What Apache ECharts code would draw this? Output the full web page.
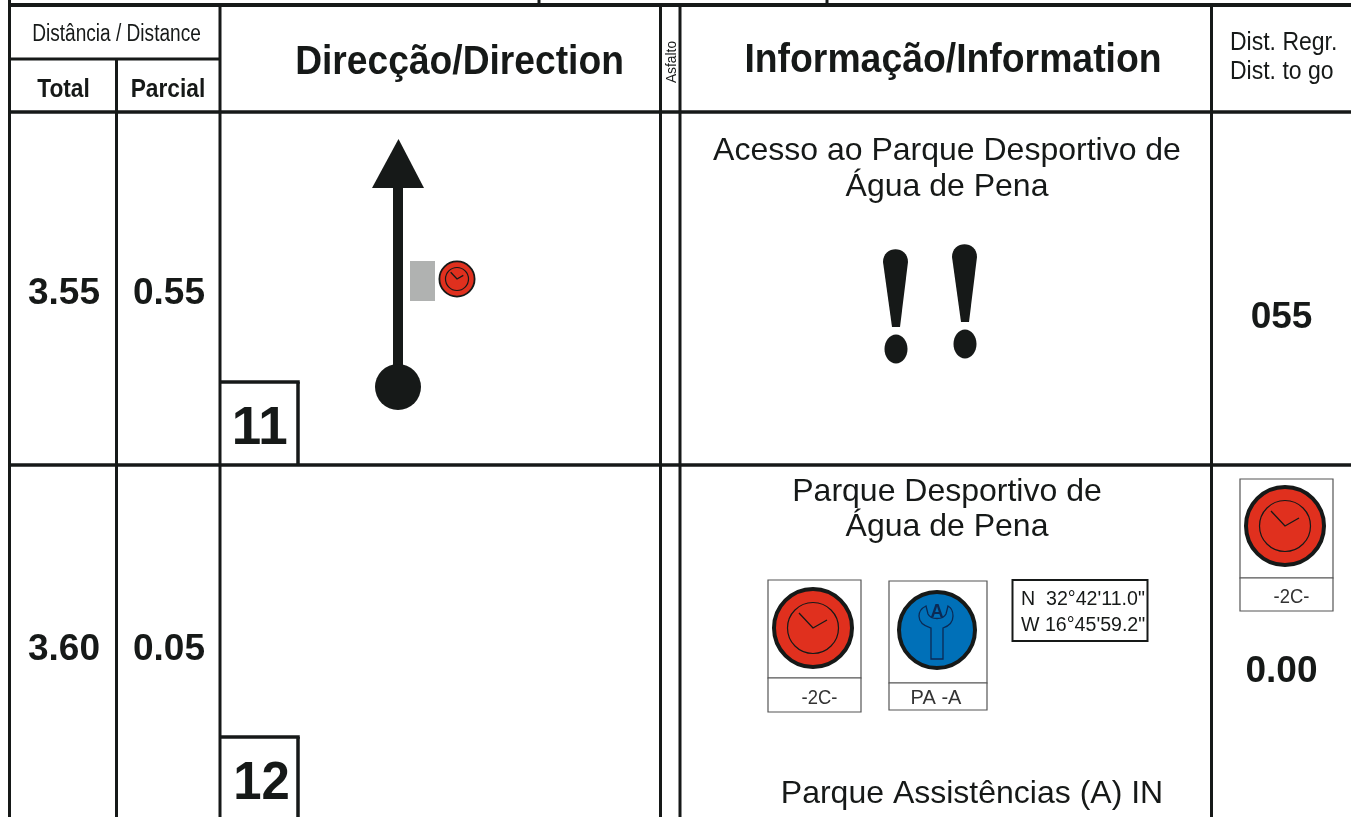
<!DOCTYPE html>
<html>
<head>
<meta charset="utf-8">
<title>Roadbook</title>
<script src="https://cdn.jsdelivr.net/npm/echarts@6/dist/echarts.min.js"></script>
<style>
  html, body { margin: 0; padding: 0; background: #fff; }
  #chart { width: 1351px; height: 817px; }
</style>
</head>
<body>
<div id="chart"></div>
<script>
// table text
var headDistance = 'Distância / Distance'
var headTotal = 'Total'
var headPartial = 'Parcial'
var headDirection = 'Direcção/Direction'
var headSurface = 'Asfalto'
var headInfo = 'Informação/Information'
var headToGo = ['Dist. Regr.', 'Dist. to go']

// one entry per roadbook row
var rowNumbers = ['11', '12']
var totals = ['3.55', '3.60']
var partials = ['0.55', '0.05']
var toGo = ['055', '0.00']
var infoRow11 = ['Acesso ao Parque Desportivo de', 'Água de Pena']
var infoRow12 = ['Parque Desportivo de', 'Água de Pena']
var infoRow12Bottom = 'Parque Assistências (A) IN'
var gpsLines = ['N  32°42\'11.0"', 'W 16°45\'59.2"']
var timeControlLabel = '-2C-'
var serviceLabel = 'PA -A'

var INK = '#161918'
var RED = '#e0301e'
var BLUE = '#0070b8'
var FONT = '"Liberation Sans", Arial, sans-serif'

// the graphic component has no plain path type, so these two get registered
echarts.graphic.registerShape('exclaimBody', echarts.graphic.extendPath(
  'M883 262 C883 245 908 245 908 262 L900 327 L892 327 Z', {}))
echarts.graphic.registerShape('wrench', echarts.graphic.extendPath(
  'M931 659 L931 628 C924 626 919 622 919 616 C919 611 922 608 926 606 L928 614 C931 620 943 620 946 614 L948 606 C952 608 953 611 953 616 C953 622 949 626 943 628 L943 659 Z', {}))

var els = []

function rule(x1, y1, x2, y2, w) {
  els.push({ type: 'line', shape: { x1: x1, y1: y1, x2: x2, y2: y2 }, style: { stroke: INK, lineWidth: w || 3 } })
}

// sx squeezes the glyphs, the original uses a condensed type for the headers
function label(str, x, y, size, opt) {
  opt = opt || {}
  els.push({
    type: 'text',
    x: x + (opt.rot ? size * 0.07 : 0),
    y: y + (opt.rot ? 0 : size * 0.07 + 0.5),
    scaleX: opt.sx || 1,
    rotation: opt.rot || 0,
    style: {
      text: str,
      x: 0,
      y: 0,
      fill: opt.color || INK,
      font: (opt.bold ? 'bold ' : '') + size + 'px ' + FONT,
      textAlign: opt.align || 'center',
      textVerticalAlign: 'middle'
    }
  })
}

function box(x, y, w, h, lw, color) {
  els.push({ type: 'rect', shape: { x: x, y: y, width: w, height: h }, style: { fill: '#fff', stroke: color || '#555', lineWidth: lw || 1.2 } })
}

function clock(cx, cy, r) {
  var k = r / 41
  els.push({ type: 'circle', shape: { cx: cx, cy: cy, r: r - 2 * k }, style: { fill: RED, stroke: INK, lineWidth: 4 * k } })
  els.push({ type: 'circle', shape: { cx: cx, cy: cy, r: 25.5 * k }, style: { fill: 'none', stroke: INK, lineWidth: 1.2 } })
  els.push({ type: 'polyline', shape: { points: [[cx - 14 * k, cy - 15 * k], [cx, cy], [cx + 14 * k, cy - 8 * k]] }, style: { fill: 'none', stroke: INK, lineWidth: 1.3 } })
}

function exclamation(dx, dy) {
  els.push({ type: 'exclaimBody', x: dx, y: dy, style: { fill: INK } })
  els.push({ type: 'ellipse', shape: { cx: 896 + dx, cy: 349 + dy, rx: 11.5, ry: 14.5 }, style: { fill: INK } })
}

// table frame
rule(8, 5, 1351, 5, 4)
rule(539, 0, 539, 5, 3)
rule(827, 0, 827, 5, 3)
rule(8, 59, 220, 59, 3)
rule(8, 112, 1351, 112, 3.5)
rule(8, 465, 1351, 465, 3.5)
rule(9.5, 0, 9.5, 817, 3)
rule(116.5, 59, 116.5, 817, 3)
rule(220, 5, 220, 817, 3)
rule(660.5, 5, 660.5, 817, 3)
rule(680, 5, 680, 817, 3)
rule(1211.5, 5, 1211.5, 817, 3)

// number boxes in the direction column
rule(220, 382, 299.75, 382, 3.5)
rule(298, 382, 298, 465, 3.5)
rule(220, 737, 299.75, 737, 3.5)
rule(298, 737, 298, 817, 3.5)

// headers
label(headDistance, 116.5, 33, 23, { sx: 0.83 })
label(headTotal, 63.5, 88, 25, { bold: true, sx: 0.91 })
label(headPartial, 168, 88, 25, { bold: true, sx: 0.91 })
label(headDirection, 459.5, 60, 40, { bold: true, sx: 0.93 })
label(headSurface, 670.5, 62, 15, { rot: Math.PI / 2, sx: 0.92 })
label(headInfo, 953, 58, 40, { bold: true, sx: 0.934 })
label(headToGo[0], 1230, 41, 25, { align: 'left', sx: 0.92 })
label(headToGo[1], 1230, 70, 25, { align: 'left', sx: 0.92 })

// rows
label(totals[0], 64, 291, 37, { bold: true })
label(partials[0], 169, 291, 37, { bold: true })
label(totals[1], 64, 647, 37, { bold: true })
label(partials[1], 169, 647, 37, { bold: true })
label(toGo[0], 1281.5, 315, 37, { bold: true })
label(toGo[1], 1281.5, 669, 37, { bold: true })
// the two ones kern together too tightly, so they go in one by one
label(rowNumbers[0].charAt(0), 246.5, 425, 53, { bold: true })
label(rowNumbers[0].charAt(1), 273, 425, 53, { bold: true })
label(rowNumbers[1], 261.5, 780, 53, { bold: true, sx: 0.96 })

label(infoRow11[0], 947, 148, 32)
label(infoRow11[1], 947, 184, 32)
label(infoRow12[0], 947, 489, 32)
label(infoRow12[1], 947, 524, 32)
label(infoRow12Bottom, 972, 791, 32)

// row 11 tulip
els.push({ type: 'rect', shape: { x: 393, y: 186, width: 10, height: 190 }, style: { fill: INK } })
els.push({ type: 'polygon', shape: { points: [[398.5, 139], [424, 188], [372, 188]] }, style: { fill: INK } })
els.push({ type: 'circle', shape: { cx: 398, cy: 387, r: 23 }, style: { fill: INK } })
els.push({ type: 'rect', shape: { x: 410, y: 261, width: 25, height: 40 }, style: { fill: '#b0b2b1' } })
clock(457, 279, 18.5)

exclamation(0, 0)
exclamation(69, -5)

// row 12 signs
box(768, 580, 93, 98)
box(768, 678, 93, 34)
clock(813, 628, 41)
label(timeControlLabel, 819.5, 697, 20, { color: '#333', sx: 0.92 })

box(889, 581, 98, 102)
box(889, 683, 98, 27)
els.push({ type: 'circle', shape: { cx: 937, cy: 630, r: 38 }, style: { fill: BLUE, stroke: INK, lineWidth: 4 } })
els.push({ type: 'wrench', style: { fill: 'none', stroke: '#0b2a55', lineWidth: 1.3 } })
label('A', 937, 610, 18, { bold: true, color: '#0b2a55' })
label(serviceLabel, 936, 697, 20, { color: '#333' })

box(1012.5, 580, 135, 61, 2, INK)
label(gpsLines[0], 1021, 598, 20, { align: 'left', sx: 0.98 })
label(gpsLines[1], 1021, 624, 20, { align: 'left', sx: 0.98 })

box(1240, 479, 93, 99)
box(1240, 578, 93, 33)
clock(1285, 526, 41)
label(timeControlLabel, 1291.5, 596, 20, { color: '#333', sx: 0.92 })

var chart = echarts.init(document.getElementById('chart'))
chart.setOption({
  backgroundColor: '#fff',
  animation: false,
  graphic: { elements: els }
})
</script>
</body>
</html>
